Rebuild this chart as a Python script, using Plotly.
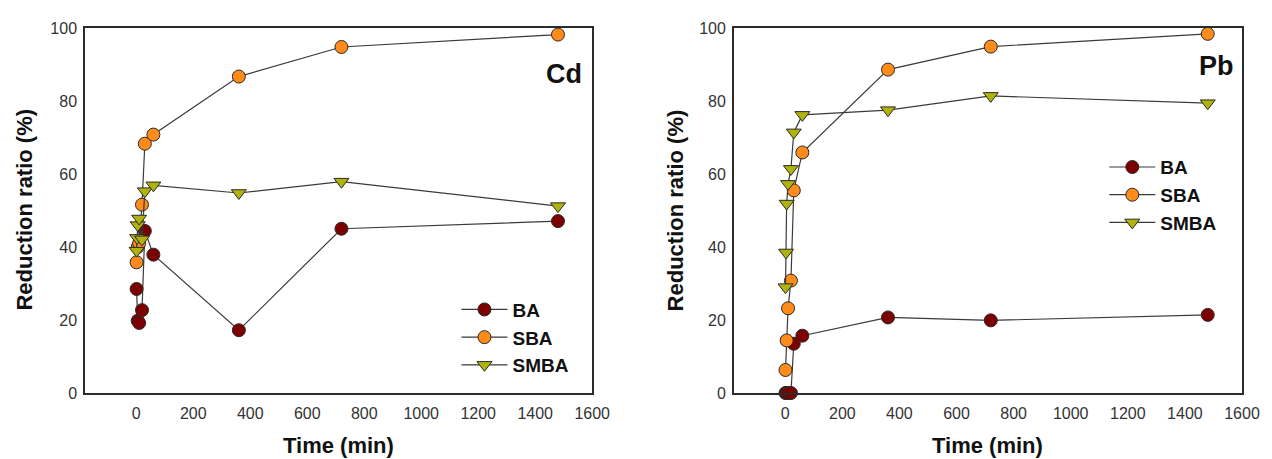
import plotly.graph_objects as go

# ---------------- data ----------------
series_names = ["BA", "SBA", "SMBA"]

# Cd panel
cd_ba_t = [1, 5, 10, 20, 30, 60, 360, 720, 1480]
cd_ba = [28.5, 19.8, 19.2, 22.7, 44.4, 37.9, 17.2, 45.0, 47.1]
cd_sba_t = [1, 5, 10, 20, 30, 60, 360, 720, 1480]
cd_sba = [35.8, 40.0, 41.0, 51.6, 68.3, 70.8, 86.7, 94.8, 98.2]
cd_smba_t = [1, 3, 5, 10, 20, 30, 60, 360, 720, 1480]
cd_smba = [39.0, 42.5, 46.0, 47.8, 42.1, 55.3, 56.9, 54.8, 57.9, 51.2]

# Pb panel
pb_ba_t = [1, 5, 10, 20, 30, 60, 360, 720, 1480]
pb_ba = [0.0, 0.0, 0.0, 0.0, 13.5, 15.7, 20.7, 19.9, 21.4]
pb_sba_t = [1, 5, 10, 20, 30, 60, 360, 720, 1480]
pb_sba = [6.3, 14.4, 23.2, 30.8, 55.5, 65.9, 88.6, 94.9, 98.4]
pb_smba_t = [1, 3, 5, 10, 20, 30, 60, 360, 720, 1480]
pb_smba = [29.0, 38.5, 51.9, 57.3, 61.4, 71.4, 76.2, 77.5, 81.4, 79.4]

x_ticks = [0, 200, 400, 600, 800, 1000, 1200, 1400, 1600]
y_ticks = [0, 20, 40, 60, 80, 100]
panel_labels = ["Cd", "Pb"]
x_title = "Time (min)"
y_title = "Reduction ratio (%)"

# ---------------- styles ----------------
FONT = "Liberation Sans, Arial, sans-serif"
LINE_C = "#3a3a3a"
styles = {
    "BA": dict(symbol="circle", color="#7d0000"),
    "SBA": dict(symbol="circle", color="#ff8c1a"),
    "SMBA": dict(symbol="triangle-down", color="#b0b30c"),
}

OFF = 8  # page body margin of the html output
W, H = 1272 - OFF, 459 - OFF
# target pixel positions in the 1272x459 window
L_AX, R_AX, T_AX, B_AX = 85, 1253, 24, 393
ML, MR, MT, MB = L_AX - OFF, 1272 - R_AX, T_AX - OFF, 459 - B_AX
PW, PH = W - ML - MR, H - MT - MB


def px_x(p):
    return (p - L_AX) / PW


def px_y(p):
    return (B_AX - p) / PH


fig = go.Figure()

panels = [
    ("x", "y", "legend", [(cd_ba_t, cd_ba), (cd_sba_t, cd_sba), (cd_smba_t, cd_smba)]),
    ("x2", "y2", "legend2", [(pb_ba_t, pb_ba), (pb_sba_t, pb_sba), (pb_smba_t, pb_smba)]),
]

for xa, ya, lg, data in panels:
    for name, (t, v) in zip(series_names, data):
        st = styles[name]
        fig.add_trace(go.Scatter(
            x=t, y=v, name=name, mode="lines+markers",
            xaxis=xa, yaxis=ya, legend=lg, cliponaxis=False,
            line=dict(color=LINE_C, width=1.2),
            marker=dict(symbol=st["symbol"], size=13, color=st["color"],
                        line=dict(color="#2a2a2a", width=1)),
        ))

axis_common = dict(
    showgrid=False, zeroline=False, showline=True, mirror=True,
    linecolor="#2b2b2b", linewidth=1.5,
    ticks="outside", tickcolor="rgba(0,0,0,0)",
    tickfont=dict(family=FONT, size=16, color="#333333"),
)

fig.update_layout(
    width=W, height=H,
    margin=dict(l=ML, r=MR, t=MT, b=MB),
    paper_bgcolor="white", plot_bgcolor="white",
    showlegend=True,
    xaxis=dict(domain=[0, px_x(597)], range=[-180, 1600], tickvals=x_ticks, ticklen=5, **axis_common),
    yaxis=dict(domain=[0, 1], range=[0, 100], tickvals=y_ticks, ticklen=3, **axis_common),
    xaxis2=dict(domain=[px_x(740), 1], range=[-180, 1600], tickvals=x_ticks, ticklen=5, anchor="y2", **axis_common),
    yaxis2=dict(domain=[0, 1], range=[0, 100], tickvals=y_ticks, ticklen=3, anchor="x2", **axis_common),
    legend=dict(x=px_x(460), y=px_y(337), xanchor="left", yanchor="middle",
                font=dict(family=FONT, size=19, color="#111", weight="bold"),
                bgcolor="rgba(0,0,0,0)", itemwidth=46, tracegroupgap=0),
    legend2=dict(x=px_x(1114), y=px_y(193), xanchor="left", yanchor="middle",
                 font=dict(family=FONT, size=19, color="#111", weight="bold"),
                 bgcolor="rgba(0,0,0,0)", itemwidth=46, tracegroupgap=0),
)

ann = []
common_anchor = dict(xref="paper", yref="paper", showarrow=False,
                     xanchor="center", yanchor="middle")
# panel labels
ann.append(dict(text=panel_labels[0], x=px_x(569), y=px_y(70),
                font=dict(family=FONT, size=27, color="#111", weight="bold"), **common_anchor))
ann.append(dict(text=panel_labels[1], x=px_x(1227), y=px_y(62),
                font=dict(family=FONT, size=27, color="#111", weight="bold"), **common_anchor))
# axis titles
for cx in (23, 681):
    ann.append(dict(text=y_title, x=px_x(cx), y=px_y(208), textangle=-90,
                    font=dict(family=FONT, size=22, color="#111", weight="bold"), **common_anchor))
for cx in (341, 996):
    ann.append(dict(text=x_title, x=px_x(cx), y=px_y(446),
                    font=dict(family=FONT, size=22, color="#111", weight="bold"), **common_anchor))
fig.update_layout(annotations=ann)

fig.write_html("out.html")
